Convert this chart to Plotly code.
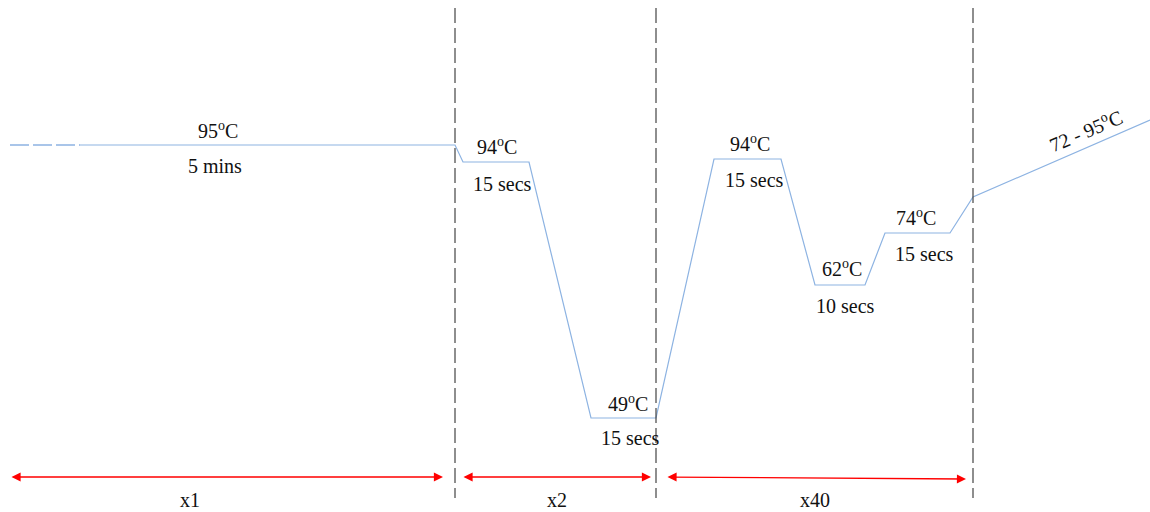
import plotly.graph_objects as go

# Schematic thermal profile (diagram units: x = time axis position, y = drawn level, top-down)
lead_x = [10, 80]
lead_y = [145, 145]
profile_x = [80, 455, 463, 529, 591, 656, 714, 781, 815, 865, 885, 950, 973, 1150]
profile_y = [145, 145, 162, 162, 418, 418, 159, 159, 285, 285, 233, 233, 197, 120]

# Stage boundaries
boundaries = [455, 656, 973]

# Step labels
temps = ["95", "94", "49", "94", "62", "74"]
durations = ["5 mins", "15 secs", "15 secs", "15 secs", "10 secs", "15 secs"]
temp_x = [218, 497, 628, 750, 842, 916]
temp_y = [130, 146, 403, 143, 268, 217]
dur_x = [215, 502, 630, 754, 845, 924]
dur_y = [166, 184, 438, 180, 306, 254]

# Final ramp label
ramp_label = "72 - 95"

# Cycle arrows
cycles = ["x1", "x2", "x40"]
arrow_x0 = [10, 462, 666]
arrow_x1 = [443, 651, 966]
arrow_y0 = [477, 477, 477]
arrow_y1 = [477, 477, 479]
cycle_label_x = [190, 557, 815]
cycle_label_y = [500, 500, 500]

LINE = "#8db3e2"
FONT = '"Liberation Serif", "Times New Roman", serif'
FS = 20

fig = go.Figure()
fig.add_trace(go.Scatter(x=lead_x, y=lead_y, mode="lines",
                         line=dict(color=LINE, width=1.3, dash="19px,4px"),
                         hoverinfo="skip", showlegend=False))
fig.add_trace(go.Scatter(x=profile_x, y=profile_y, mode="lines",
                         line=dict(color=LINE, width=1.2),
                         hoverinfo="skip", showlegend=False))

for bx in boundaries:
    fig.add_shape(type="line", x0=bx, x1=bx, y0=8, y1=498, xref="x", yref="y",
                  line=dict(color="#444444", width=1.2, dash="15px,5px"))

for t, tx, ty in zip(temps, temp_x, temp_y):
    fig.add_annotation(x=tx, y=ty, text=f"{t}<sup>o</sup>C", showarrow=False,
                       font=dict(family=FONT, size=FS, color="#111111"))
for d, dx, dy in zip(durations, dur_x, dur_y):
    fig.add_annotation(x=dx, y=dy, text=d, showarrow=False,
                       font=dict(family=FONT, size=FS, color="#111111"))

fig.add_annotation(x=1085, y=130, text=f"{ramp_label}<sup>o</sup>C", showarrow=False,
                   textangle=-23, font=dict(family=FONT, size=FS, color="#111111"))

for lab, x0, x1, y0, y1, lx, ly in zip(cycles, arrow_x0, arrow_x1, arrow_y0, arrow_y1,
                                        cycle_label_x, cycle_label_y):
    fig.add_annotation(x=x1, y=y1, ax=x0, ay=y0, xref="x", yref="y", axref="x", ayref="y",
                       text="", showarrow=True, arrowhead=2, startarrowhead=2,
                       arrowside="end+start", arrowsize=1.4, arrowwidth=1.3,
                       arrowcolor="#ff0000")
    fig.add_annotation(x=lx, y=ly, text=lab, showarrow=False,
                       font=dict(family=FONT, size=FS, color="#111111"))

fig.update_xaxes(range=[0, 1150], visible=False, fixedrange=True)
fig.update_yaxes(range=[512, 0], visible=False, fixedrange=True)
fig.update_layout(width=1150, height=512, margin=dict(l=0, r=0, t=0, b=0),
                  plot_bgcolor="white", paper_bgcolor="white")

fig.write_html("out.html", config={"displayModeBar": False},
               post_script="document.body.style.margin='0';document.body.style.overflow='hidden';")
